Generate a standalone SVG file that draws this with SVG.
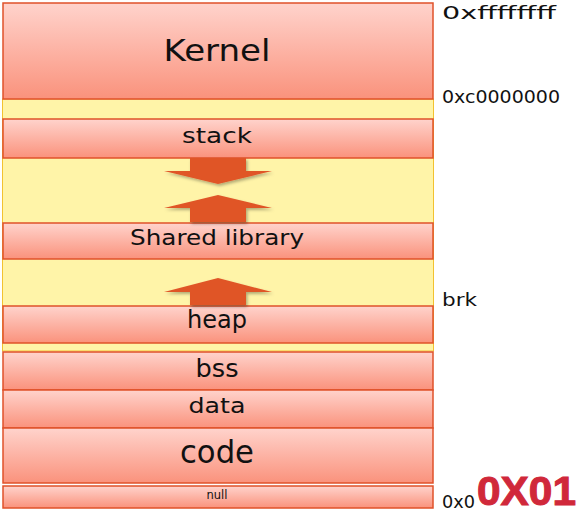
<svg xmlns="http://www.w3.org/2000/svg" width="580" height="513" viewBox="0 0 580 513">
<defs>
<linearGradient id="g" x1="0" y1="0" x2="0" y2="1">
<stop offset="0" stop-color="#ffd3cc"/>
<stop offset="1" stop-color="#fa927c"/>
</linearGradient>
<filter id="sh" x="-20%" y="-20%" width="140%" height="140%">
<feDropShadow dx="1.5" dy="2" stdDeviation="1.5" flood-color="#000" flood-opacity="0.3"/>
</filter>
<style>
.box{fill:url(#g);stroke:#e0522a;stroke-width:1.5}
.lbl{font-family:"DejaVu Sans",sans-serif;fill:#111;text-anchor:middle}
.addr{font-family:"DejaVu Sans",sans-serif;fill:#111;font-size:17px}
.arr{fill:#e05528;filter:url(#sh)}
</style>
</defs>
<rect width="580" height="513" fill="#fff"/>
<rect x="2.5" y="99" width="431" height="252" fill="#fff4a8" stroke="#f2c230" stroke-width="1"/>
<g id="kernel"><rect class="box" x="3" y="3" width="430" height="96"/><text class="lbl" x="217" y="61" font-size="31" textLength="107" lengthAdjust="spacingAndGlyphs">Kernel</text></g>
<g id="stack"><rect class="box" x="3" y="119" width="430" height="39"/><text class="lbl" x="217" y="143" font-size="22" textLength="70" lengthAdjust="spacingAndGlyphs">stack</text></g>
<g id="shared"><rect class="box" x="3" y="223" width="430" height="36"/><text class="lbl" x="217" y="245" font-size="22" textLength="174" lengthAdjust="spacingAndGlyphs">Shared library</text></g>
<g id="heap"><rect class="box" x="3" y="306" width="430" height="37"/><text class="lbl" x="217" y="328" font-size="24" textLength="60" lengthAdjust="spacingAndGlyphs">heap</text></g>
<g id="bss"><rect class="box" x="3" y="352" width="430" height="38"/><text class="lbl" x="217" y="377" font-size="24" textLength="43" lengthAdjust="spacingAndGlyphs">bss</text></g>
<g id="data"><rect class="box" x="3" y="390" width="430" height="38"/><text class="lbl" x="217" y="413" font-size="22" textLength="57" lengthAdjust="spacingAndGlyphs">data</text></g>
<g id="code"><rect class="box" x="3" y="428" width="430" height="55"/><text class="lbl" x="217" y="463" font-size="32" textLength="74" lengthAdjust="spacingAndGlyphs">code</text></g>
<g id="null"><rect class="box" x="3" y="486" width="430" height="22"/><text class="lbl" x="217" y="499" font-size="12" textLength="21" lengthAdjust="spacingAndGlyphs">null</text></g>
<g id="connectors">
<polygon class="arr" points="190,158 246,158 246,171 272,171 218,184 164,171 190,171"/>
<polygon class="arr" points="218,195 272,208 246,208 246,222 190,222 190,208 164,208"/>
<polygon class="arr" points="218,278 272,292 246,292 246,305 190,305 190,292 164,292"/>
</g>
<g id="labels">
<text class="addr" x="442" y="19" textLength="114" lengthAdjust="spacingAndGlyphs">0xffffffff</text>
<text class="addr" x="442" y="103" textLength="118" lengthAdjust="spacingAndGlyphs">0xc0000000</text>
<text class="addr" x="442" y="306" textLength="35" lengthAdjust="spacingAndGlyphs">brk</text>
<text class="addr" x="442" y="508" textLength="33" lengthAdjust="spacingAndGlyphs">0x0</text>
<text x="477" y="505" font-family="'Liberation Sans',Arial,sans-serif" font-weight="bold" font-size="40" fill="#d0283a" stroke="#d0283a" stroke-width="1" textLength="99" lengthAdjust="spacingAndGlyphs">0X01</text>
</g>
</svg>
